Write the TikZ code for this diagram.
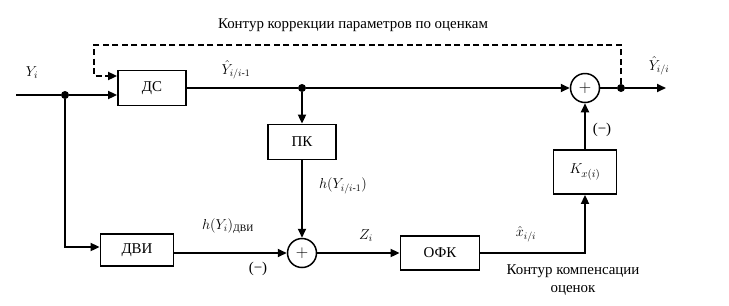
\documentclass[tikz,border=0pt]{standalone}
\usepackage{amsmath}
\usepackage{fontspec}
\setmainfont{Liberation Serif}
\usetikzlibrary{arrows.meta,calc}
\tikzset{
  blk/.style={draw,line width=1.8bp,minimum width=68bp,minimum height=35bp,inner sep=0pt,font=\fontsize{15}{17}\selectfont},
  sumc/.style={draw,circle,line width=1.5bp,minimum size=29bp,inner sep=0pt,font=\fontsize{16}{16}\selectfont},
  dotj/.style={circle,fill,minimum size=8bp,inner sep=0pt},
  arr/.style={line width=1.8bp,-{Triangle[length=9bp,width=8bp]}},
  dsh/.style={dash pattern=on 6bp off 3.5bp},
  lbl/.style={font=\fontsize{15}{18}\selectfont,inner sep=1pt},
  mlbl/.style={font=\fontsize{14}{16}\selectfont,inner sep=1pt}
}
\begin{document}
\begin{tikzpicture}[x=1bp,y=-1bp]
\useasboundingbox (0,0) rectangle (729,305);
% blocks
\node[blk] (ds) at (152,88) {ДС};
\node[blk] (pk) at (302,142) {ПК};
\node[blk,minimum width=73bp,minimum height=32bp] (dvi) at (137,250) {ДВИ};
\node[blk,minimum width=79bp,minimum height=34bp] (ofk) at (440,253) {ОФК};
\node[blk,minimum width=63bp,minimum height=44bp] (kx) at (585,172) {$K_{x(i)}$};
\node[sumc] (sumT) at (585,88) {$+$};
\node[sumc] (sumB) at (302,253) {$+$};
% junctions
\coordinate (in) at (16,95);
\node[dotj] (j1) at (65,95) {};
\node[dotj] (j2) at (302,88) {};
\node[dotj] (j3) at (621,88) {};
\coordinate (out) at (666,88);
\coordinate (dc) at (94,45);
% connectors
\draw[arr] (in) -- (j1) -- (j1 -| ds.west);
\draw[arr] (j1) |- ([yshift=3bp]dvi.west);
\draw[arr] (ds.east) -- (j2) -- (sumT.west);
\draw[arr] (j2) -- (pk.north);
\draw[arr] (pk.south) -- (sumB.north);
\draw[arr] (dvi.east |- sumB) -- (sumB.west);
\draw[arr] (sumB.east) -- (ofk.west);
\draw[arr] (ofk.east) -| (kx.south);
\draw[arr] (kx.north) -- (sumT.south);
\draw[arr] (sumT.east) -- (j3) -- (out);
\draw[arr,dsh] (j3) |- (dc) |- ([yshift=12bp]ds.west);
% labels
\node[lbl] (tt) at (353,25) {Контур коррекции параметров по оценкам};
\node[mlbl] (lyi) at (32,73) {$Y_i$};
\node[mlbl] (ly1) at (236,70) {$\hat{Y}_{i/i\text{-}1}$};
\node[mlbl] (ly2) at (659,66) {$\hat{Y}_{i/i}$};
\node[mlbl] (lh1) at (343,186) {$h(Y_{i/i\text{-}1})$};
\node[mlbl] (lh2) at (228,226) {$h(Y_i)_{\text{ДВИ}}$};
\node[lbl] (lm1) at (258,269) {(−)};
\node[lbl] (lm2) at (602,130) {(−)};
\node[mlbl] (lz) at (366,236) {$Z_i$};
\node[mlbl] (lx) at (526,234) {$\hat{x}_{i/i}$};
\node[lbl,align=center] (tb) at (573,280) {Контур компенсации\\оценок};
\end{tikzpicture}
\end{document}
